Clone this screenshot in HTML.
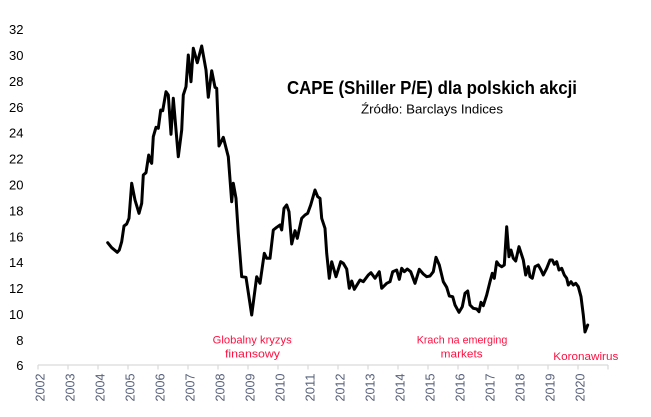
<!DOCTYPE html>
<html>
<head>
<meta charset="utf-8">
<style>
  html, body { margin: 0; padding: 0; background: #ffffff; }
  svg { display: block; }
  text { font-family: "Liberation Sans", "DejaVu Sans", sans-serif; }
</style>
</head>
<body>
<svg width="651" height="417" viewBox="0 0 651 417" xmlns="http://www.w3.org/2000/svg">
  <rect width="651" height="417" fill="#ffffff"/>

  <!-- Y axis labels -->
  <g font-size="13" fill="#000000" text-anchor="end">
    <text x="23.5" y="34">32</text>
    <text x="23.5" y="60">30</text>
    <text x="23.5" y="86">28</text>
    <text x="23.5" y="112">26</text>
    <text x="23.5" y="137.5">24</text>
    <text x="23.5" y="163.5">22</text>
    <text x="23.5" y="189.5">20</text>
    <text x="23.5" y="215.5">18</text>
    <text x="23.5" y="241.5">16</text>
    <text x="23.5" y="267">14</text>
    <text x="23.5" y="293">12</text>
    <text x="23.5" y="319">10</text>
    <text x="23.5" y="345">8</text>
    <text x="23.5" y="370">6</text>
  </g>

  <!-- X axis -->
  <line x1="38" y1="365" x2="608" y2="365" stroke="#d9d9d9" stroke-width="1.2"/>
  <g stroke="#d9d9d9" stroke-width="1.2">
    <line x1="38" y1="365" x2="38" y2="369.5"/>
    <line x1="68" y1="365" x2="68" y2="369.5"/>
    <line x1="98" y1="365" x2="98" y2="369.5"/>
    <line x1="128" y1="365" x2="128" y2="369.5"/>
    <line x1="158" y1="365" x2="158" y2="369.5"/>
    <line x1="188" y1="365" x2="188" y2="369.5"/>
    <line x1="218" y1="365" x2="218" y2="369.5"/>
    <line x1="248" y1="365" x2="248" y2="369.5"/>
    <line x1="278" y1="365" x2="278" y2="369.5"/>
    <line x1="308" y1="365" x2="308" y2="369.5"/>
    <line x1="338" y1="365" x2="338" y2="369.5"/>
    <line x1="368" y1="365" x2="368" y2="369.5"/>
    <line x1="398" y1="365" x2="398" y2="369.5"/>
    <line x1="428" y1="365" x2="428" y2="369.5"/>
    <line x1="458" y1="365" x2="458" y2="369.5"/>
    <line x1="488" y1="365" x2="488" y2="369.5"/>
    <line x1="518" y1="365" x2="518" y2="369.5"/>
    <line x1="548" y1="365" x2="548" y2="369.5"/>
    <line x1="578" y1="365" x2="578" y2="369.5"/>
    <line x1="608" y1="365" x2="608" y2="369.5"/>
  </g>

  <!-- X axis year labels (rotated) -->
  <g font-size="12.5" fill="#57617a" text-anchor="end">
    <text transform="translate(44.3,373.5) rotate(-90)" textLength="28" lengthAdjust="spacingAndGlyphs">2002</text>
    <text transform="translate(74.3,373.5) rotate(-90)" textLength="28" lengthAdjust="spacingAndGlyphs">2003</text>
    <text transform="translate(104.3,373.5) rotate(-90)" textLength="28" lengthAdjust="spacingAndGlyphs">2004</text>
    <text transform="translate(134.3,373.5) rotate(-90)" textLength="28" lengthAdjust="spacingAndGlyphs">2005</text>
    <text transform="translate(164.3,373.5) rotate(-90)" textLength="28" lengthAdjust="spacingAndGlyphs">2006</text>
    <text transform="translate(194.3,373.5) rotate(-90)" textLength="28" lengthAdjust="spacingAndGlyphs">2007</text>
    <text transform="translate(224.3,373.5) rotate(-90)" textLength="28" lengthAdjust="spacingAndGlyphs">2008</text>
    <text transform="translate(254.3,373.5) rotate(-90)" textLength="28" lengthAdjust="spacingAndGlyphs">2009</text>
    <text transform="translate(284.3,373.5) rotate(-90)" textLength="28" lengthAdjust="spacingAndGlyphs">2010</text>
    <text transform="translate(314.3,373.5) rotate(-90)" textLength="28" lengthAdjust="spacingAndGlyphs">2011</text>
    <text transform="translate(344.3,373.5) rotate(-90)" textLength="28" lengthAdjust="spacingAndGlyphs">2012</text>
    <text transform="translate(374.3,373.5) rotate(-90)" textLength="28" lengthAdjust="spacingAndGlyphs">2013</text>
    <text transform="translate(404.3,373.5) rotate(-90)" textLength="28" lengthAdjust="spacingAndGlyphs">2014</text>
    <text transform="translate(434.3,373.5) rotate(-90)" textLength="28" lengthAdjust="spacingAndGlyphs">2015</text>
    <text transform="translate(464.3,373.5) rotate(-90)" textLength="28" lengthAdjust="spacingAndGlyphs">2016</text>
    <text transform="translate(494.3,373.5) rotate(-90)" textLength="28" lengthAdjust="spacingAndGlyphs">2017</text>
    <text transform="translate(524.3,373.5) rotate(-90)" textLength="28" lengthAdjust="spacingAndGlyphs">2018</text>
    <text transform="translate(554.3,373.5) rotate(-90)" textLength="28" lengthAdjust="spacingAndGlyphs">2019</text>
    <text transform="translate(584.3,373.5) rotate(-90)" textLength="28" lengthAdjust="spacingAndGlyphs">2020</text>
  </g>

  <!-- Title -->
  <text x="287" y="94" font-size="18" font-weight="bold" fill="#000000" textLength="290" lengthAdjust="spacingAndGlyphs">CAPE (Shiller P/E) dla polskich akcji</text>
  <text x="361" y="113.5" font-size="13" fill="#000000" textLength="142" lengthAdjust="spacingAndGlyphs">Źródło: Barclays Indices</text>

  <!-- Annotations -->
  <g font-size="11" fill="#ff1040">
    <text x="212.7" y="343.3" textLength="79" lengthAdjust="spacingAndGlyphs">Globalny kryzys</text>
    <text x="225" y="357.7" textLength="55" lengthAdjust="spacingAndGlyphs">finansowy</text>
    <text x="416.7" y="343.3" textLength="90.6" lengthAdjust="spacingAndGlyphs">Krach na emerging</text>
    <text x="440.7" y="357.3" textLength="42" lengthAdjust="spacingAndGlyphs">markets</text>
    <text x="553.3" y="360" textLength="65" lengthAdjust="spacingAndGlyphs">Koronawirus</text>
  </g>

  <!-- Data series -->
  <polyline fill="none" stroke="#000000" stroke-width="3" stroke-linejoin="round" stroke-linecap="round"
    points="
107.7,242.7 111.7,247.7 117.3,252.3 119.3,250 121.7,241.7 124,226 126.7,224 129,218.3
131.7,183.3 135,200 139,213.3 141.7,203.3 143.3,175 146,172.7 148.7,155 150.7,161.7
151.7,163.3 153.3,136.7 156,127.3 158.3,128.3 160.7,110 162.7,110.7 166,91.7 168.3,95
171,134.3 173.3,98.3 178.3,156.7 181.7,130 183.3,95 186,86.7 188.3,55 191,81.7
193.3,48.3 197.3,62.7 201.7,46 206,70 208.3,97.3 211.7,70.7 215,87.3 216.7,88.3
219,146 223.3,137.3 228.3,156.7 231.7,201.7 233.3,183.3 236,198.3 238.3,233.3 241.7,276.7
246,277.3 251.7,315 256.7,276.7 260,283.3 264.3,253.3 266.7,258.3 270,258.3 273.3,230
276.7,227.3 280,225 281.7,230 284,208.3 286.7,205 289,211.7 291.7,244 295,230.7
297.3,238.3 301.7,218.3 305,215 307.7,213.3 310.7,205 315,190 317.7,196.7 320,198.3
321.7,218.3 325,228.3 326.7,253.3 329.3,278.3 331.7,261.7 336,276.7 340.7,261.7 343.3,263.3
346.7,269 349.3,288.3 351.7,281 354.3,289.3 360,280 363.3,281.7 368.3,275 371,272.7
375,278.3 379.3,271.7 381.7,288.3 386.7,283.3 390,281.7 392.7,271.7 396.7,270 399.3,279.3
401.7,268.3 404.3,271.7 407.3,269 410.7,271.7 415,283.3 419.3,269.3 423.3,274 426.7,276.7
430,276 433.3,271.7 436,257.3 439.3,265 443.3,281.7 446.7,287.3 449.3,296 452.7,296.7
455,305 459,312.3 462.3,306.7 465,293.3 467.7,291 470,305 473.3,308.3 476.7,309
479,311.7 481,302.3 483.3,305.7 486.7,295 490,281.7 492.3,273.3 494.3,278.3 496.7,261.7
499,265 501.7,266.7 504.3,265 506.7,226.7 509,256.7 511,250 513.3,258.3 515.7,261
519,246.7 523.3,260 525.7,275 528.3,266.7 530,276.7 532.3,278.3 535,266.7 538.3,265
541,270 543.3,275 546.7,268.3 550,260 552.3,260 554.3,264.3 556.7,261.7 559,270
561.7,268.3 564.3,275 566.7,278.3 568.3,285 571,281.7 573.3,285 575.7,283.3 578.3,286.7
581,296.7 583.3,315 585,332 587.7,325"/>
</svg>
</body>
</html>
